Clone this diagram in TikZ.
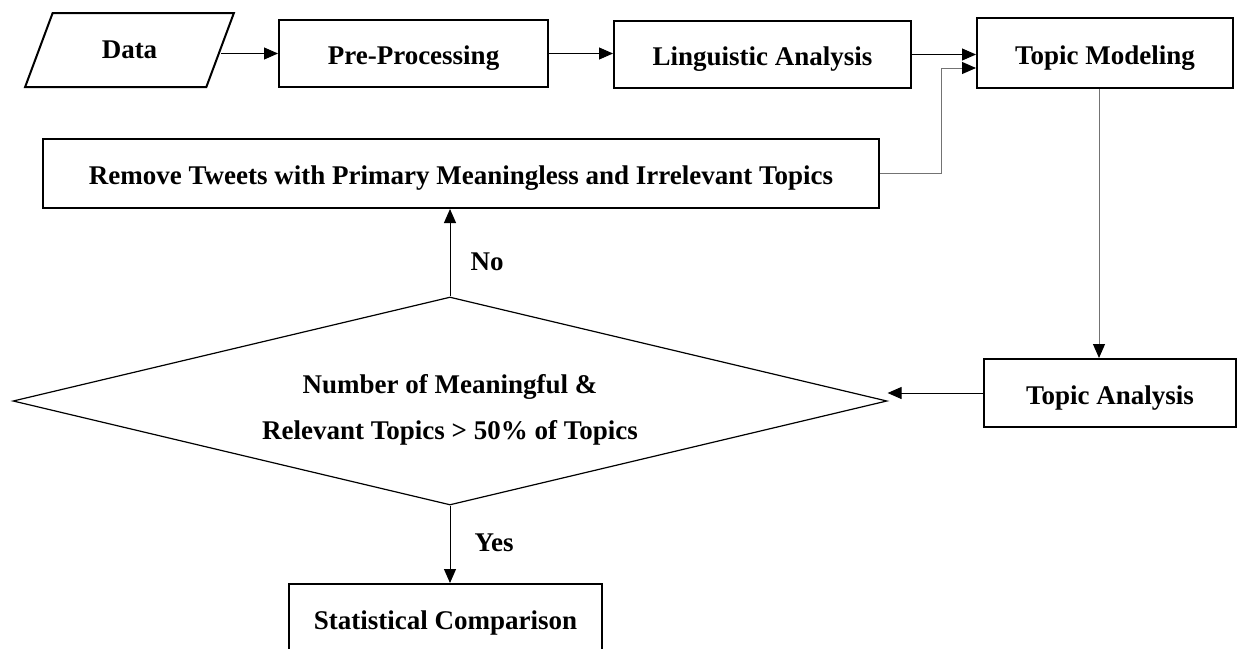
\documentclass[tikz,border=0pt]{standalone}
\usepackage{fontspec}
\setmainfont{Liberation Serif}
\usepackage{tikz}
\usetikzlibrary{shapes.geometric,arrows.meta}

\begin{document}
\begin{tikzpicture}[x=0.5pt, y=-0.5pt,
		box/.style={draw, line width=1pt, inner sep=0pt, font=\fontsize{13.5}{15}\selectfont\bfseries},
		rbox/.style={box, text height=11.5pt, text depth=0.5pt},
		arr/.style={-{Triangle[length=7pt,width=6pt]}, line width=0.5pt},
		greyarr/.style={-{Triangle[length=7pt,width=6pt,black]}, line width=0.5pt, draw=black!55},
		lbl/.style={font=\fontsize{13.5}{15}\selectfont\bfseries, inner sep=0pt}]
	\useasboundingbox (0,0) rectangle (1241,648);
	% top row
	\node[box, trapezium, trapezium left angle=61, trapezium right angle=119, trapezium stretches=true, minimum width=104.5pt, minimum height=37pt] (data) at (129.5,50) {Data};
	\node[rbox, minimum width=134.5pt, minimum height=33.5pt] (pre) at (413.5,53.5) {Pre-Processing};
	\node[rbox, minimum width=148.5pt, minimum height=33.5pt] (ling) at (762.5,54.5) {Linguistic Analysis};
	\node[rbox, minimum width=128pt, minimum height=35pt] (tm) at (1105,53) {Topic Modeling};
	% middle
	\node[rbox, minimum width=418pt, minimum height=34.5pt] (remove) at (461,173.5) {Remove Tweets with Primary Meaningless and Irrelevant Topics};
	\node[box, diamond, shape aspect=4.2, line width=0.6pt, minimum width=437pt, minimum height=104pt, align=center, font=\fontsize{13.5}{23}\selectfont\bfseries] (dec) at (450,401) {\rule{0pt}{18pt}Number of Meaningful \&\\Relevant Topics > 50\% of Topics};
	\node[rbox, minimum width=126pt, minimum height=34pt] (ta) at (1110,393) {Topic Analysis};
	\node[rbox, minimum width=156.5pt, minimum height=34pt] (stat) at (445.5,618) {Statistical Comparison};

	\draw[arr] (data.east |- pre.west) -- (pre.west);
	\draw[arr] (pre.east) -- (pre.east -| ling.west);
	\draw[arr] (ling.east) -- (ling.east -| tm.west);
	\draw[greyarr] (remove.east) -- ++(61,0) |- ([yshift=-7.5pt]tm.west);
	\draw[greyarr] ([xshift=-3pt]tm.south) -- ([xshift=-3pt]tm.south |- ta.north);
	\draw[arr] (ta.west) -- (ta.west -| dec.east);
	\draw[arr] (dec.north) -- node[lbl, right=10pt, pos=0.4] (no) {No} (dec.north |- remove.south);
	\draw[arr] (dec.south) -- node[lbl, right=12pt, pos=0.48] (yes) {Yes} (dec.south |- stat.north);
\end{tikzpicture}
\end{document}
